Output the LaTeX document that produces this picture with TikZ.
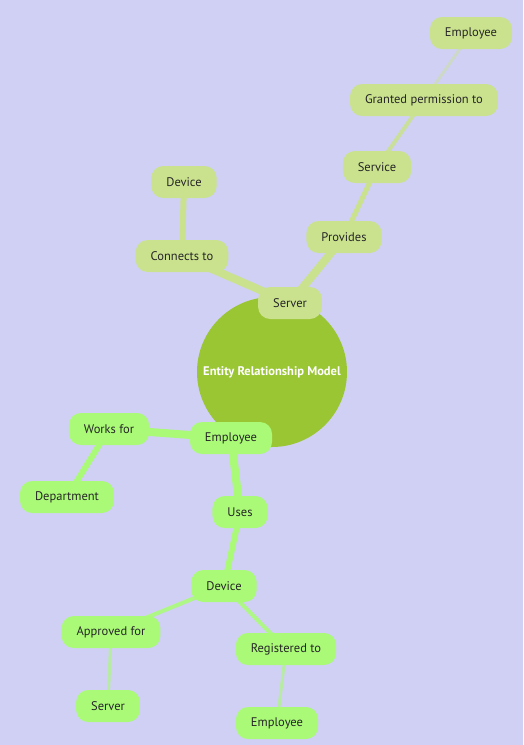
\documentclass[tikz,border=0pt]{standalone}
\usepackage{fontspec}
\setmainfont{PT Sans}
\usepackage{tikz}
\usetikzlibrary{positioning, shapes.geometric}

\definecolor{bgcol}{RGB}{208,208,245}
\definecolor{rootcol}{RGB}{154,198,52}
\definecolor{topcol}{RGB}{202,226,142}
\definecolor{botcol}{RGB}{170,250,120}

\pgfdeclarelayer{bg}
\pgfdeclarelayer{edges}
\pgfsetlayers{bg,edges,main}

\begin{document}
\begin{tikzpicture}[x=1pt, y=-1pt]
    \tikzstyle{topbox} = [fill=topcol, rounded corners=12pt, minimum height=32pt, inner xsep=15pt, font=\fontsize{12.5}{14}\selectfont, text=black!85]
    \tikzstyle{botbox} = [topbox, fill=botcol]
    \tikzstyle{toplink} = [topcol, line cap=round]
    \tikzstyle{botlink} = [botcol, line cap=round]

    \begin{pgfonlayer}{bg}
    \useasboundingbox[fill=bgcol] (0,0) rectangle (523,745);
    \end{pgfonlayer}

    % Radice
    \node[circle, fill=rootcol, minimum size=150pt, text=white, font=\bfseries\fontsize{12.5}{14}\selectfont] (root) at (272,372) {Entity Relationship Model};

    % Ramo superiore
    \node[topbox] (srv) at (290,303) {Server};
    \node[topbox] (conn) at (182,256) {Connects to};
    \node[topbox] (devA) at (184,182) {Device};
    \node[topbox] (prov) at (344,237) {Provides};
    \node[topbox] (svc) at (377,167) {Service};
    \node[topbox] (grant) at (424,100) {Granted permission to};
    \node[topbox] (empA) at (471,33) {Employee};

    % Ramo inferiore
    \node[botbox] (emp) at (231,438) {Employee};
    \node[botbox] (works) at (109,429) {Works for};
    \node[botbox] (dept) at (67,497) {Department};
    \node[botbox] (uses) at (240,512) {Uses};
    \node[botbox] (devB) at (224,586) {Device};
    \node[botbox] (appr) at (111,632) {Approved for};
    \node[botbox] (srvB) at (108,706) {Server};
    \node[botbox] (reg) at (286,649) {Registered to};
    \node[botbox] (empB) at (277,723) {Employee};

    % Collegamenti (sotto i nodi)
    \begin{pgfonlayer}{edges}
    \draw[toplink, line width=8pt] (srv.center) -- (conn.center);
    \draw[toplink, line width=6pt] (conn.center) -- (devA.center);
    \draw[toplink, line width=8pt] (srv.center) -- (prov.center);
    \draw[toplink, line width=5pt] (prov.center) -- (svc.center);
    \draw[toplink, topcol!85!bgcol, line width=4pt] (svc.center) -- (grant.center);
    \draw[toplink, topcol!45!bgcol, line width=3pt] (grant.center) -- (empA.center);

    \draw[botlink, line width=8pt] (emp.center) -- (works.center);
    \draw[botlink, line width=6pt] (works.center) -- (dept.center);
    \draw[botlink, line width=8pt] (emp.center) -- (uses.center);
    \draw[botlink, line width=6pt] (uses.center) -- (devB.center);
    \draw[botlink, botcol!90!bgcol, line width=4pt] (devB.center) -- (appr.center);
    \draw[botlink, botcol!65!bgcol, line width=3pt] (appr.center) -- (srvB.center);
    \draw[botlink, botcol!90!bgcol, line width=4pt] (devB.center) -- (reg.center);
    \draw[botlink, botcol!65!bgcol, line width=3pt] (reg.center) -- (empB.center);
    \end{pgfonlayer}
\end{tikzpicture}
\end{document}
